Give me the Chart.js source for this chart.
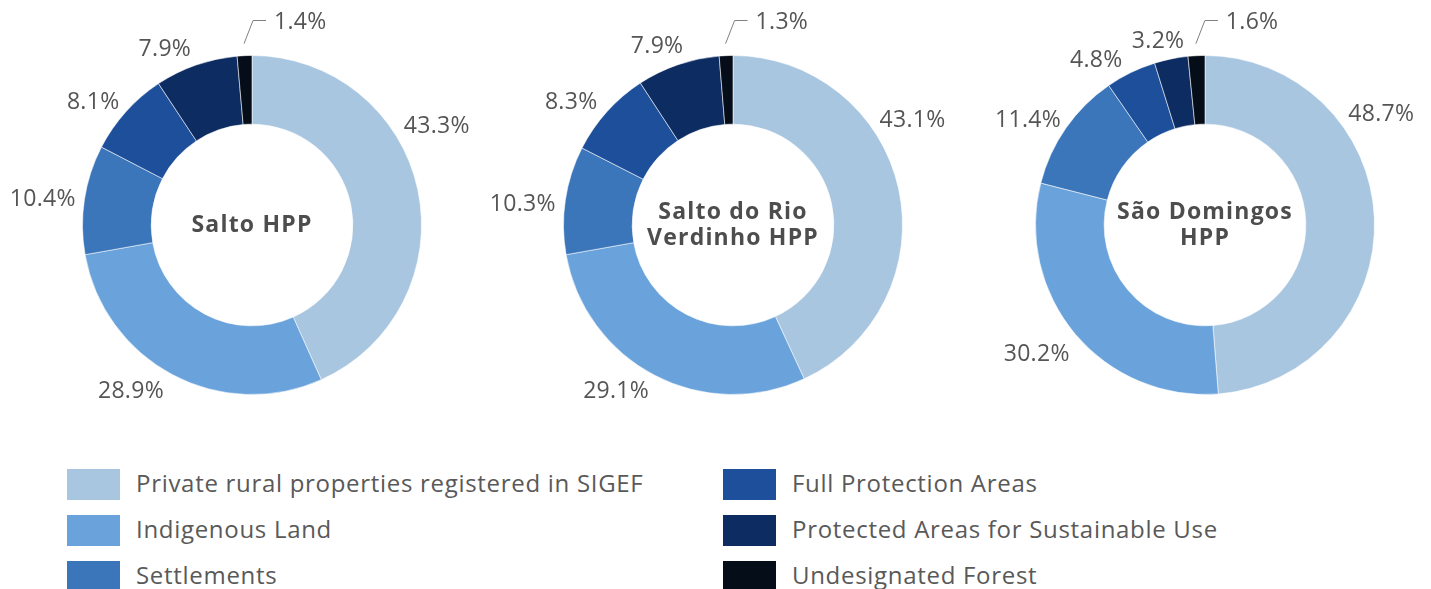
<!DOCTYPE html>
<html lang="en">
<head>
  <meta charset="UTF-8">
  <title>Land tenure around the HPPs</title>
  <script src="https://cdn.jsdelivr.net/npm/chart.js@4.4.0/dist/chart.umd.min.js"></script>
  <style>
    body {
      margin: 0;
      background: #fff;
      font-family: "Open Sans", sans-serif;
    }

    .universo {
      position: relative;
      width: 1431px;
      height: 589px;
      overflow: hidden;
    }

    .rosca {
      position: absolute;
      top: 0;
      width: 500px;
      height: 450px;
    }

    .item {
      position: absolute;
      height: 31px;
      display: flex;
      align-items: center;
      font-size: 24px;
      letter-spacing: 0.7px;
      color: #595959;
      white-space: nowrap;
    }

    .item span.cor {
      display: inline-block;
      width: 53px;
      height: 31px;
      margin-right: 16px;
    }

    .item span.nome {
      position: relative;
      top: -2px;
    }
  </style>
</head>

<body>
  <div class="universo">
    <div class="rosca" style="left: 2px;"><canvas id="g-um"></canvas></div>
    <div class="rosca" style="left: 483px;"><canvas id="g-dois"></canvas></div>
    <div class="rosca" style="left: 955px;"><canvas id="g-tres"></canvas></div>
    <div id="legenda"></div>
  </div>

  <script>
    // dados
    const categorias = [
      'Private rural properties registered in SIGEF',
      'Indigenous Land',
      'Settlements',
      'Full Protection Areas',
      'Protected Areas for Sustainable Use',
      'Undesignated Forest'
    ];
    const usinas = ['Salto HPP', 'Salto do Rio\nVerdinho HPP', 'São Domingos\nHPP'];
    const salto = [43.3, 28.9, 10.4, 8.1, 7.9, 1.4];
    const verdinho = [43.1, 29.1, 10.3, 8.3, 7.9, 1.3];
    const saoDomingos = [48.7, 30.2, 11.4, 4.8, 3.2, 1.6];

    const cores = ['#a9c6e1', '#6aa3db', '#3b75ba', '#1e4f9b', '#0d2c62', '#050d19'];

    // ajuste fino da posicao dos rotulos (null = rotulo com linha guia)
    const ajustes = [
      [[-20, -55], [-23, -19], [-2, 6], [-3, 17], [-18, 22], null],
      [[-25, -59], [-20, -19], [-3, 10], [-6, 17], [-8, 20], null],
      [[-33, -102], [-8, -5], [-5, 15], [-17, 24], [-5, 22], null]
    ];

    const corTexto = '#555555';

    function rotulos(indice) {
      return {
        id: 'rotulos' + indice,
        afterDatasetsDraw(chart) {
          const ctx = chart.ctx;
          const meta = chart.getDatasetMeta(0);
          const valores = chart.data.datasets[0].data;
          ctx.save();
          ctx.fillStyle = corTexto;
          ctx.font = '23px "Open Sans"';
          ctx.letterSpacing = '0.3px';
          ctx.textBaseline = 'middle';
          meta.data.forEach((arco, i) => {
            const p = arco.getProps(['x', 'y', 'startAngle', 'endAngle', 'outerRadius'], true);
            const meio = (p.startAngle + p.endAngle) / 2;
            const texto = valores[i].toFixed(1) + '%';
            const aj = ajustes[indice][i];
            if (aj) {
              const r = p.outerRadius + 40;
              ctx.textAlign = 'center';
              ctx.fillText(texto, p.x + Math.cos(meio) * r + aj[0], p.y + Math.sin(meio) * r + aj[1]);
            } else {
              // linha guia
              const r0 = p.outerRadius + 12;
              const x0 = p.x + Math.cos(meio) * r0;
              const y0 = p.y + Math.sin(meio) * r0;
              const x1 = x0 + 9;
              const y1 = p.y - p.outerRadius - 35;
              const x2 = x1 + 13;
              ctx.strokeStyle = '#808080';
              ctx.lineWidth = 1;
              ctx.beginPath();
              ctx.moveTo(x0, y0);
              ctx.lineTo(x1, y1);
              ctx.lineTo(x2, y1);
              ctx.stroke();
              ctx.textAlign = 'left';
              ctx.fillText(texto, x2 + 8, y1 + 2);
            }
          });

          // nome da usina no centro
          const c = meta.data[0];
          const linhas = usinas[indice].split('\n');
          ctx.font = 'bold 23px "Open Sans"';
          ctx.letterSpacing = '1.2px';
          ctx.fillStyle = '#4d4d4d';
          ctx.textAlign = 'center';
          linhas.forEach((l, k) => {
            ctx.fillText(l, c.x, c.y + (k - (linhas.length - 1) / 2) * 26);
          });
          ctx.restore();
        }
      };
    }

    function criar(id, dados, indice) {
      return new Chart(document.getElementById(id), {
        type: 'doughnut',
        data: {
          labels: categorias,
          datasets: [{
            data: dados,
            backgroundColor: cores,
            borderColor: 'rgba(255,255,255,0.55)',
            borderWidth: 1,
            hoverOffset: 0
          }]
        },
        options: {
          responsive: true,
          maintainAspectRatio: false,
          animation: false,
          events: [],
          cutout: '59.5%',
          layout: { padding: { top: 55, bottom: 55, left: 80, right: 80 } },
          plugins: {
            legend: { display: false },
            tooltip: { enabled: false }
          }
        },
        plugins: [rotulos(indice)]
      });
    }

    criar('g-um', salto, 0);
    criar('g-dois', verdinho, 1);
    criar('g-tres', saoDomingos, 2);

    // legenda
    const legenda = document.getElementById('legenda');
    categorias.forEach((nome, i) => {
      const div = document.createElement('div');
      div.className = 'item';
      div.style.left = (i < 3 ? 67 : 723) + 'px';
      div.style.top = (469 + (i % 3) * 46) + 'px';
      div.innerHTML = '<span class="cor" style="background:' + cores[i] + '"></span><span class="nome">' + nome + '</span>';
      legenda.appendChild(div);
    });
  </script>
</body>

</html>
